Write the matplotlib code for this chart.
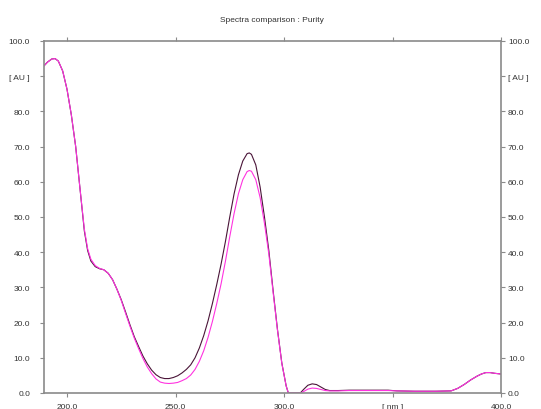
import matplotlib
matplotlib.use("Agg")
import matplotlib.pyplot as plt

# wavelength [nm] and absorbance [AU] of the two compared spectra
wavelength = [189.5, 191, 193, 194.5, 196, 198, 200, 202, 204, 206, 208, 209.5, 211, 213, 215,
              217, 219, 221, 223, 225, 227, 229, 231, 233, 235, 237, 239, 241, 243, 245,
              247, 249, 251, 253, 255, 257, 259, 261, 263, 265, 267, 269, 271, 273, 275,
              277, 279, 281, 283, 284, 285, 287, 289, 291, 293, 295, 297, 299, 301, 302,
              307.5, 309, 311, 313, 315, 317, 319, 321, 325, 330, 340, 348, 352, 360, 370,
              377, 380, 383, 386, 389, 391, 393, 395, 397, 400]
spectrum_a = [93.0, 94.0, 94.9, 95.0, 94.3, 91.5, 86.3, 79.0, 70.0, 58.0, 46.0, 40.5, 37.5, 35.9, 35.3,
              35.0, 34.0, 32.2, 29.5, 26.5, 23.0, 19.4, 16.0, 13.2, 10.5, 8.3, 6.5, 5.2, 4.4, 4.1,
              4.1, 4.4, 4.9, 5.7, 6.7, 8.0, 10.0, 12.8, 16.3, 20.5, 25.4, 30.8, 36.6, 43.0, 50.0,
              56.6, 62.0, 65.9, 68.0, 68.2, 67.8, 64.8, 58.5, 50.0, 40.5, 29.0, 18.0, 8.5, 2.0, 0.0,
              0.0, 1.0, 2.2, 2.6, 2.4, 1.7, 1.0, 0.7, 0.7, 0.8, 0.8, 0.8, 0.6, 0.5, 0.5,
              0.6, 1.3, 2.4, 3.7, 4.8, 5.4, 5.8, 5.8, 5.6, 5.4]
spectrum_b = [93.0, 94.0, 94.9, 95.0, 94.3, 91.5, 86.3, 79.0, 70.0, 58.0, 46.5, 41.0, 38.0, 36.2, 35.4,
              35.0, 34.0, 32.2, 29.5, 26.3, 22.6, 19.0, 15.6, 12.6, 9.8, 7.4, 5.5, 4.0, 3.1, 2.8,
              2.7, 2.8, 3.0, 3.5, 4.1, 5.1, 6.7, 9.0, 12.0, 15.8, 20.3, 25.4, 31.0, 37.4, 44.4,
              51.0, 56.6, 60.6, 62.9, 63.2, 63.0, 60.6, 55.5, 48.2, 39.5, 28.5, 17.8, 8.4, 2.0, 0.0,
              0.0, 0.4, 1.1, 1.4, 1.3, 1.0, 0.7, 0.6, 0.6, 0.7, 0.7, 0.7, 0.6, 0.5, 0.5,
              0.6, 1.3, 2.4, 3.7, 4.8, 5.4, 5.8, 5.8, 5.6, 5.4]

x_ticks = [200, 250, 300, 350, 400]
x_labels = ["200.0", "250.0", "300.0", "[ nm ]", "400.0"]
y_ticks = [0, 10, 20, 30, 40, 50, 60, 70, 80, 90, 100]
y_labels = ["0.0", "10.0", "20.0", "30.0", "40.0", "50.0", "60.0", "70.0", "80.0", "[ AU ]", "100.0"]

plt.rcParams["font.family"] = ["Liberation Sans", "DejaVu Sans"]
txt = "#333333"
grey = "#8a8a8a"
fs = 6

fig = plt.figure(figsize=(5.41, 4.10), dpi=100)
ax = fig.add_axes([44 / 541, 1 - 394 / 410, 457 / 541, 352 / 410])

ax.plot(wavelength, spectrum_a, color="#4a1438", lw=0.8)
ax.plot(wavelength, spectrum_b, color="#ff33e0", lw=0.8)

ax.set_xlim(189.4, 400)
ax.set_ylim(0, 100)

ax.set_xticks(x_ticks)
ax.set_xticklabels(x_labels)
ax.set_yticks(y_ticks)
ax.set_yticklabels(y_labels)

for s in ax.spines.values():
    s.set_color(grey)
    s.set_linewidth(1.2)

ax.tick_params(axis="x", top=True, bottom=True, direction="out",
               length=3, width=0.8, color=grey, labelsize=fs, labelcolor=txt, pad=4)
ax.tick_params(axis="y", left=True, right=False, direction="out",
               length=3, width=0.8, color=grey, labelsize=fs, labelcolor=txt, pad=7)

# right-hand scale, same values
ax2 = ax.twinx()
ax2.set_ylim(0, 100)
ax2.set_yticks(y_ticks)
ax2.set_yticklabels(y_labels)
for s in ax2.spines.values():
    s.set_visible(False)
ax2.tick_params(axis="y", right=True, direction="out", length=3, width=0.8,
                color=grey, labelsize=fs, labelcolor=txt, pad=2)

fig.text(272 / 541, 1 - 20 / 410, "Spectra comparison : Purity", ha="center", va="center",
         fontsize=fs, color=txt)

fig.savefig("out.png", dpi=100)
